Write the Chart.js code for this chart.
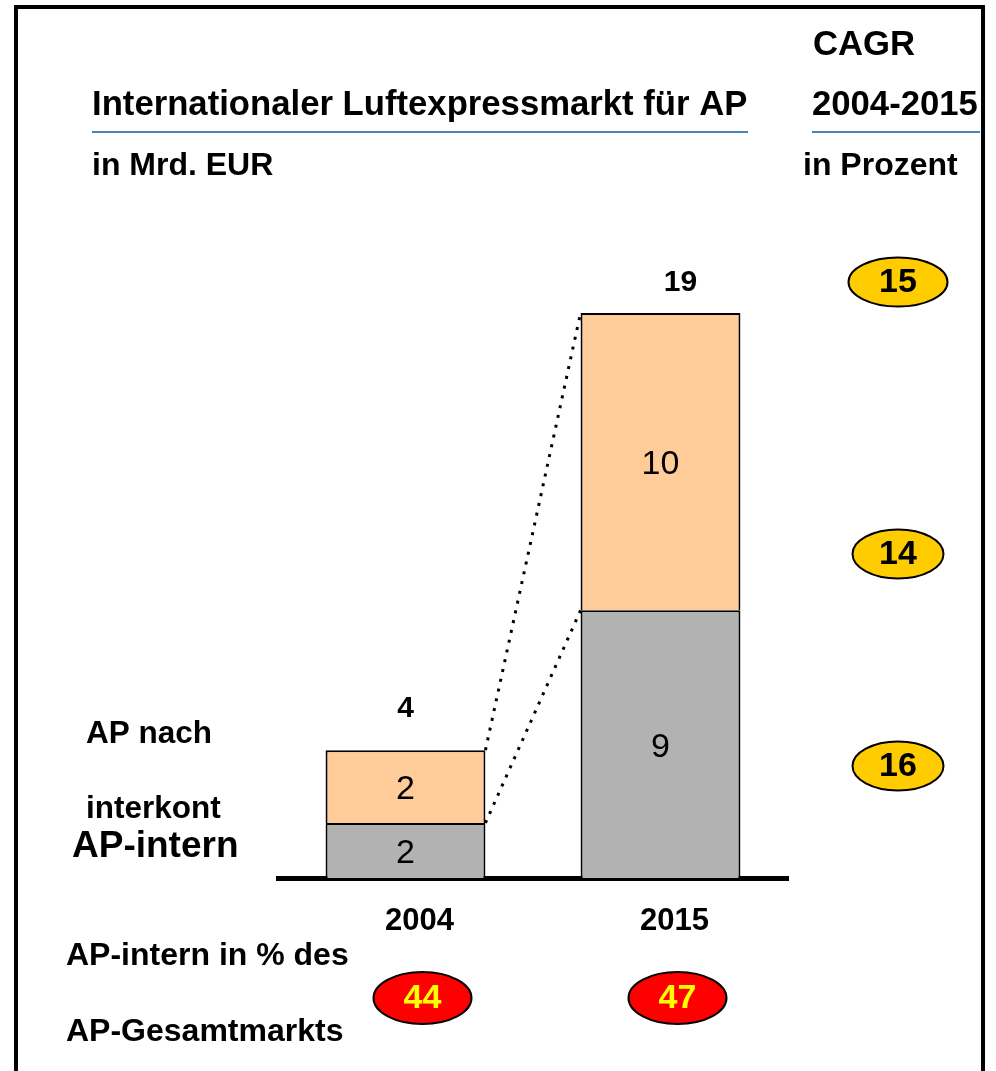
<!DOCTYPE html>
<html>
<head>
<meta charset="utf-8">
<title>Internationaler Luftexpressmarkt für AP</title>
<script src="https://cdn.jsdelivr.net/npm/chart.js@4/dist/chart.umd.min.js"></script>
<style>
  html, body { margin: 0; padding: 0; background: #fff; }
  canvas { display: block; }
</style>
</head>
<body>
<canvas id="myChart" width="996" height="1071"></canvas>
<script>
// values in Mrd. EUR
var years = ["2004", "2015"];
var apIntern = [1.85, 9];
var apInterkont = [2.45, 10];
// AP-intern in % des AP-Gesamtmarkts
var internShare = [44, 47];
// CAGR 2004-2015 in Prozent: gesamt, nach interkont, intern
var cagr = [15, 14, 16];

var FONT = "'Liberation Sans', Arial, Helvetica, sans-serif";
Chart.defaults.font.family = FONT;

function oval(ctx, x, y, w, h, fill, txt, txtColor) {
	ctx.beginPath();
	ctx.ellipse(x, y, w / 2, h / 2, 0, 0, Math.PI * 2);
	ctx.fillStyle = fill;
	ctx.fill();
	ctx.lineWidth = 2;
	ctx.strokeStyle = "#000";
	ctx.stroke();
	ctx.fillStyle = txtColor;
	ctx.font = "bold 34px " + FONT;
	ctx.textAlign = "center";
	ctx.textBaseline = "middle";
	ctx.fillText(txt, x, y + 1);
}

var decor = {
	id: "decor",
	afterDraw: function(chart) {
		var ctx = chart.ctx;
		var grey = chart.getDatasetMeta(0).data;
		var peach = chart.getDatasetMeta(1).data;
		ctx.save();

		// frame
		ctx.strokeStyle = "#000";
		ctx.lineWidth = 4;
		ctx.beginPath();
		ctx.moveTo(16, 1071);
		ctx.lineTo(16, 7);
		ctx.lineTo(983, 7);
		ctx.lineTo(983, 1071);
		ctx.stroke();

		// headings
		ctx.fillStyle = "#000";
		ctx.textAlign = "left";
		ctx.textBaseline = "middle";
		ctx.font = "bold 34.7px " + FONT;
		ctx.fillText("CAGR", 813, 45);
		ctx.fillText("Internationaler Luftexpressmarkt für AP", 92, 105);
		ctx.fillText("2004-2015", 812, 105);
		ctx.font = "bold 32px " + FONT;
		ctx.fillText("in Mrd. EUR", 92, 166);
		ctx.fillText("in Prozent", 803, 166);

		ctx.strokeStyle = "#4F81BD";
		ctx.lineWidth = 2;
		ctx.beginPath();
		ctx.moveTo(92, 132); ctx.lineTo(748, 132);
		ctx.moveTo(812, 132); ctx.lineTo(980, 132);
		ctx.stroke();

		// series names on the left
		ctx.font = "bold 31.5px " + FONT;
		ctx.fillText("AP nach", 86, 734);
		ctx.fillText("interkont", 86, 809);
		ctx.font = "bold 37px " + FONT;
		ctx.fillText("AP-intern", 72, 847);
		ctx.font = "bold 32px " + FONT;
		ctx.fillText("AP-intern in % des", 66, 956);
		ctx.fillText("AP-Gesamtmarkts", 66, 1032);

		// values inside the bars
		ctx.textAlign = "center";
		ctx.font = "34px " + FONT;
		[grey, peach].forEach(function(bars, d) {
			var vals = d === 0 ? apIntern : apInterkont;
			bars.forEach(function(b, i) {
				ctx.fillText(String(Math.round(vals[i])), b.x, (b.y + b.base) / 2 + 3);
			});
		});

		// totals
		ctx.font = "bold 30px " + FONT;
		peach.forEach(function(b, i) {
			var tot = Math.round(apIntern[i] + apInterkont[i]);
			ctx.fillText(String(tot), b.x + (i === 1 ? 20 : 0), b.y - (i === 1 ? 30 : 41));
		});

		// dotted connectors
		ctx.strokeStyle = "#000";
		ctx.lineWidth = 3;
		ctx.setLineDash([3, 7]);
		ctx.beginPath();
		[peach, grey].forEach(function(bars) {
			var a = bars[0], b = bars[1];
			ctx.moveTo(a.x + a.width / 2, a.y);
			ctx.lineTo(b.x - b.width / 2, b.y);
		});
		ctx.stroke();
		ctx.setLineDash([]);

		// share ovals
		peach.forEach(function(b, i) {
			oval(ctx, b.x + 17, 998, 98, 52, "#FF0000", String(internShare[i]), "#FFFF00");
		});

		// CAGR ovals
		var cy = [282, 554, 766];
		var cw = [99, 91, 91];
		cagr.forEach(function(v, i) {
			oval(ctx, 898, cy[i], cw[i], 49, "#FFCC00", String(v), "#000");
		});

		ctx.restore();
	}
};

var ctx = document.getElementById("myChart");

var myBarChart = new Chart(ctx, {
	type: "bar",
	data: {
		labels: years,
		datasets: [
			{
				label: "AP-intern",
				data: apIntern,
				backgroundColor: "#B2B2B2",
				borderColor: "#000",
				borderWidth: 2
			},
			{
				label: "AP nach interkont",
				data: apInterkont,
				backgroundColor: "#FFCC99",
				borderColor: "#000",
				borderWidth: 2
			}
		]
	},
	options: {
		responsive: false,
		animation: false,
		layout: { padding: { left: 278, right: 208, top: 313, bottom: 133 } },
		plugins: { legend: { display: false }, tooltip: { enabled: false } },
		datasets: { bar: { categoryPercentage: 1, barPercentage: 0.627 } },
		scales: {
			x: {
				stacked: true,
				grid: { display: false, drawTicks: false },
				border: { display: true, color: "#000", width: 5 },
				ticks: { color: "#000", padding: 25, labelOffset: 14, font: { size: 31, weight: "bold" } },
				afterFit: function(scale) { scale.height = 60; }
			},
			y: {
				stacked: true,
				display: false,
				min: 0,
				max: 19
			}
		}
	},
	plugins: [decor]
});
</script>
</body>
</html>
